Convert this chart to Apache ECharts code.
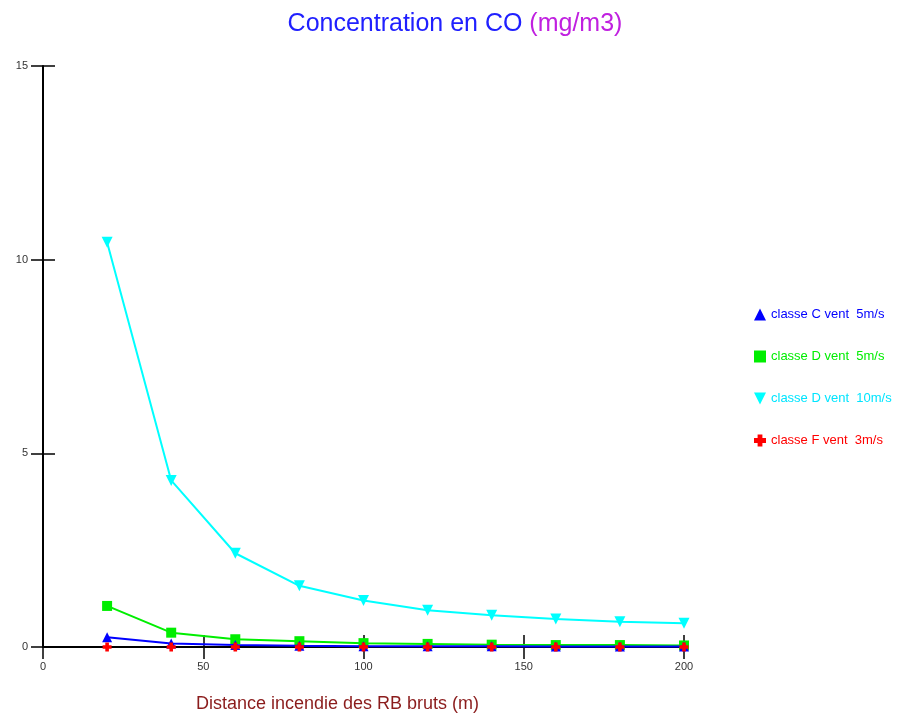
<!DOCTYPE html>
<html><head><meta charset="utf-8">
<script src="https://cdn.jsdelivr.net/npm/echarts@6/dist/echarts.min.js"></script>
<style>html,body{margin:0;padding:0;background:#fff}#c{width:910px;height:720px}</style>
</head><body><div id="c"></div>
<script>
const distances = [20, 40, 60, 80, 100, 120, 140, 160, 180, 200];
const classeC5 = [0.25, 0.09, 0.05, 0.03, 0.02, 0.02, 0.02, 0.01, 0.01, 0.01];
const classeD5 = [1.06, 0.37, 0.20, 0.15, 0.10, 0.08, 0.06, 0.05, 0.05, 0.04];
const classeD10 = [10.45, 4.3, 2.42, 1.58, 1.2, 0.95, 0.82, 0.72, 0.65, 0.61];
const classeF3 = [0.0, 0.0, 0.0, 0.0, 0.0, 0.0, 0.0, 0.0, 0.0, 0.0];
const seriesNames = ['classe C vent  5m/s', 'classe D vent  5m/s', 'classe D vent  10m/s', 'classe F vent  3m/s'];
const xTicks = [0, 50, 100, 150, 200];
const yTicks = [0, 5, 10, 15];

const colors = ['#0000ff', '#00ee00', '#00ffff', '#ff0000'];
const symbols = ['triangle', 'rect', 'path://M0,0L10,0L5,10Z', 'path://M3,0H7V3H10V7H7V10H3V7H0V3H3Z'];
const symSizes = [10, 10, 11, 9];
const values = [classeC5, classeD5, classeD10, classeF3];

const pair = arr => distances.map((d, i) => [d, arr[i]]);
const font = 'Liberation Sans, Arial, sans-serif';

const series = values.map((v, k) => ({
  name: seriesNames[k], type: 'line', data: pair(v),
  symbol: symbols[k], symbolSize: symSizes[k],
  lineStyle: { color: colors[k], width: k === 3 ? 0 : 2 },
  itemStyle: { color: colors[k] },
  z: k === 3 ? 6 : 5 - k,
  animation: false
}));

const chart = echarts.init(document.getElementById('c'));
chart.setOption({
  animation: false,
  title: {
    text: '{a|Concentration en CO }{b|(mg/m3)}',
    left: 450, top: 7, textAlign: 'center',
    textStyle: { rich: {
      a: { fontSize: 25, fontWeight: 'normal', color: '#2020ff', fontFamily: font },
      b: { fontSize: 25, fontWeight: 'normal', color: '#c020e0', fontFamily: font }
    } }
  },
  legend: {
    orient: 'vertical', left: 749, top: 303, itemGap: 29,
    itemWidth: 12, itemHeight: 12,
    data: seriesNames.map((n, k) => ({ name: n, icon: symbols[k], itemStyle: { color: colors[k] }, textStyle: { color: colors[k] === '#00ffff' ? '#00e5ff' : colors[k] } })),
    textStyle: { fontSize: 13, fontFamily: font }
  },
  grid: { left: 43, right: 226, top: 66, bottom: 73, containLabel: false },
  xAxis: [{
    type: 'value', min: 0, max: 200, interval: 50,
    axisLine: { show: true, onZero: false, lineStyle: { color: '#000', width: 2 } },
    axisTick: { show: true, length: 12, inside: false, lineStyle: { color: '#000', width: 1.5 } },
    axisLabel: { margin: 14, fontSize: 11, color: '#333', fontFamily: font, formatter: v => xTicks.includes(v) ? String(v) : '' },
    splitLine: { show: false },
    name: 'Distance incendie des RB bruts (m)', nameLocation: 'middle', nameGap: 48,
    nameTextStyle: { fontSize: 18, color: '#8b1c1c', fontFamily: font, padding: [0, 52, 0, 0] }
  }, {
    type: 'value', min: 0, max: 200, interval: 50, position: 'bottom',
    axisLine: { show: false }, axisLabel: { show: false }, splitLine: { show: false },
    axisTick: { show: true, length: 12, inside: true, lineStyle: { color: '#000', width: 1.5 } }
  }],
  yAxis: [{
    type: 'value', min: 0, max: 15, interval: 5,
    axisLine: { show: true, onZero: false, lineStyle: { color: '#000', width: 2 } },
    axisTick: { show: true, length: 12, inside: false, lineStyle: { color: '#000', width: 1.5 } },
    axisLabel: { margin: 15, fontSize: 11, color: '#333', fontFamily: font, formatter: v => yTicks.includes(v) ? String(v) : '' },
    splitLine: { show: false }
  }, {
    type: 'value', min: 0, max: 15, interval: 5, position: 'left',
    axisLine: { show: false }, axisLabel: { show: false }, splitLine: { show: false },
    axisTick: { show: true, length: 12, inside: true, lineStyle: { color: '#000', width: 1.5 } }
  }],
  series: series
});
</script></body></html>
